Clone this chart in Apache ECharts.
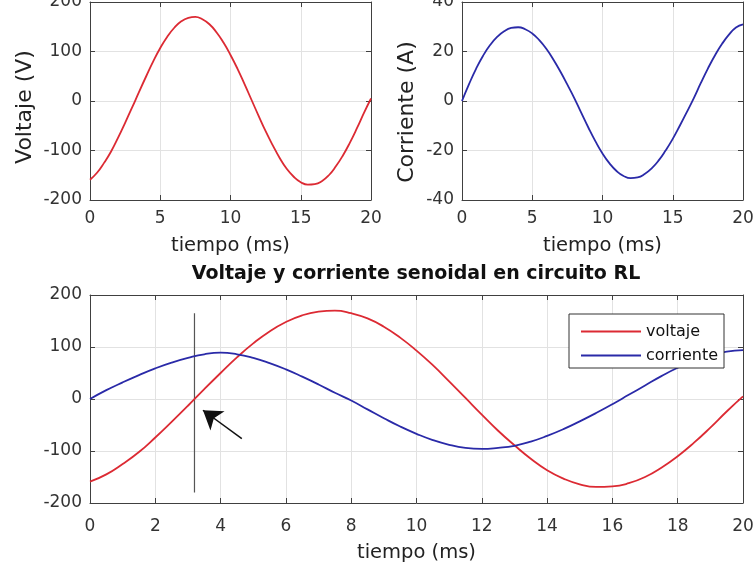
<!DOCTYPE html>
<html>
<head>
<meta charset="utf-8">
<script src="https://cdn.jsdelivr.net/npm/echarts@6/dist/echarts.min.js"></script>
<style>
html,body{margin:0;padding:0;background:#fff;}
#chart{width:756px;height:569px;}
</style>
</head>
<body>
<div id="chart"></div>
<script>
// ---- data ----
const tiempo = [0,0.5,1,1.5,2,2.5,3,3.5,4,4.5,5,5.5,6,6.5,7,7.5,8,8.5,9,9.5,10,10.5,11,11.5,12,12.5,13,13.5,14,14.5,15,15.5,16,16.5,17,17.5,18,18.5,19,19.5,20];
const voltaje = [-159,-145,-125,-102,-74,-44,-13,19,50,80,107,130,148,161,168,170,165,155,139,118,93,65,34,2,-30,-61,-89,-115,-137,-153,-164,-169,-168,-162,-150,-132,-110,-84,-55,-24,5];
const corrienteA = [0,6.8,13,18.3,22.6,25.9,28.2,29.5,29.8,29,27.3,24.6,21.1,16.8,11.9,6.6,1.1,-4.9,-10.8,-16.3,-21.2,-25.2,-28.3,-30.3,-31.2,-30.9,-29.5,-27.2,-24,-19.9,-15.3,-10,-4.5,1.2,7.3,13.1,18.4,23,26.8,29.7,31];
const corrienteEsc = [0,17,32,46,59,70,79,86,89,86,79,69,57,43,28,12,-3,-20,-37,-53,-67,-79,-88,-94,-96,-94,-90,-82,-71,-58,-43,-27,-10,8,26,44,60,73,84,91,94];
const seriesNames = ['voltaje','corriente'];
const titulo = 'Voltaje y corriente senoidal en circuito RL';
const xName = 'tiempo (ms)';
const yNames = ['Voltaje (V)','Corriente (A)'];
const markerT = [3.2,3.2];
const markerV = [165,-180];
const arrowFrom = [4.65,-76];
const arrowTo = [3.46,-21.6];

const FONT = 'DejaVu Sans';
const AX = '#404040';
const TXT = '#333';
const GRIDC = '#e2e2e2';
const RED = '#dc2a33';
const BLUE = '#2a2aa8';

function pairs(xs, ys){ return xs.map((x,i)=>[x, ys[i]]); }

function mainX(g, interval, labelMargin, nameGap){
  return {type:'value', gridIndex:g, min:0, max:20, interval:interval,
    axisLine:{show:true,onZero:false,lineStyle:{color:AX,width:1}},
    axisTick:{show:true,inside:true,length:5,lineStyle:{color:AX}},
    axisLabel:{margin:labelMargin,color:TXT,fontFamily:FONT,fontSize:17},
    splitLine:{show:true,lineStyle:{color:GRIDC,width:1}},
    name:xName, nameLocation:'middle', nameGap:nameGap,
    nameTextStyle:{color:'#222',fontFamily:FONT,fontSize:19.5}};
}
function topX(g, interval){
  return {type:'value', gridIndex:g, position:'top', min:0, max:20, interval:interval,
    axisLine:{show:true,onZero:false,lineStyle:{color:AX,width:1}},
    axisTick:{show:true,inside:true,length:5,lineStyle:{color:AX}},
    axisLabel:{show:false}, splitLine:{show:false}};
}
function mainY(g, min, max, interval, name, nameGap, padR){
  return {type:'value', gridIndex:g, min:min, max:max, interval:interval,
    axisLine:{show:true,onZero:false,lineStyle:{color:AX,width:1}},
    axisTick:{show:true,inside:true,length:5,lineStyle:{color:AX}},
    axisLabel:{margin:8,color:TXT,fontFamily:FONT,fontSize:17},
    splitLine:{show:true,lineStyle:{color:GRIDC,width:1}},
    name:name, nameLocation:'middle', nameGap:nameGap,
    nameTextStyle:{color:'#222',fontFamily:FONT,fontSize:22,padding:[0,padR,0,0]}};
}
function rightY(g, min, max, interval){
  return {type:'value', gridIndex:g, position:'right', min:min, max:max, interval:interval,
    axisLine:{show:true,onZero:false,lineStyle:{color:AX,width:1}},
    axisTick:{show:true,inside:true,length:5,lineStyle:{color:AX}},
    axisLabel:{show:false}, splitLine:{show:false}};
}
function curve(name, xi, yi, ys, color){
  return {name:name, type:'line', xAxisIndex:xi, yAxisIndex:yi, data:pairs(tiempo,ys),
    smooth:true, symbol:'none',
    lineStyle:{color:color,width:1.8}, itemStyle:{color:color}};
}

const chart = echarts.init(document.getElementById('chart'), null, {renderer:'canvas'});
const option = {
  backgroundColor:'#fff',
  animation:false,
  title:{text:titulo, left:416, top:265, textAlign:'center', padding:0,
    textStyle:{fontFamily:FONT,fontWeight:'bold',fontSize:19,color:'#111'}},
  legend:{data:seriesNames, orient:'vertical', left:569, top:314,
    padding:[9,6,4,12], icon:'rect', itemWidth:60, itemHeight:2, itemGap:7,
    backgroundColor:'#fff', borderColor:'#333', borderWidth:1, borderRadius:0,
    textStyle:{fontFamily:FONT,fontSize:16,lineHeight:17,color:'#111',padding:[0,0,0,0]}},
  grid:[
    {left:90, top:2, width:281, height:198, outerBoundsMode:'none', containLabel:false},
    {left:462, top:2, width:281, height:198, outerBoundsMode:'none', containLabel:false},
    {left:90, top:295, width:653, height:208, outerBoundsMode:'none', containLabel:false}
  ],
  xAxis:[ mainX(0,5,10,36), mainX(1,5,10,36), mainX(2,2,15,40), topX(0,5), topX(1,5), topX(2,2) ],
  yAxis:[ mainY(0,-200,200,100,yNames[0],54,12), mainY(1,-40,40,20,yNames[1],44,22),
          mainY(2,-200,200,100,'',50,0), rightY(0,-200,200,100), rightY(1,-40,40,20), rightY(2,-200,200,100) ],
  series:[
    curve('v_top',0,0,voltaje,RED),
    curve('i_top',1,1,corrienteA,BLUE),
    curve(seriesNames[0],2,2,voltaje,RED),
    curve(seriesNames[1],2,2,corrienteEsc,BLUE),
    {name:'marker', type:'line', xAxisIndex:2, yAxisIndex:2, data:pairs(markerT,markerV),
      symbol:'none', lineStyle:{color:'#555',width:1.2}, z:1},
    {name:'arrow', type:'lines', coordinateSystem:'cartesian2d', xAxisIndex:2, yAxisIndex:2,
      data:[{coords:[arrowFrom, arrowTo]}], symbol:['none','arrow'], symbolSize:[12,18],
      lineStyle:{color:'#111',width:1.5,opacity:1}, z:5}
  ]
};
chart.setOption(option);
</script>
</body>
</html>
